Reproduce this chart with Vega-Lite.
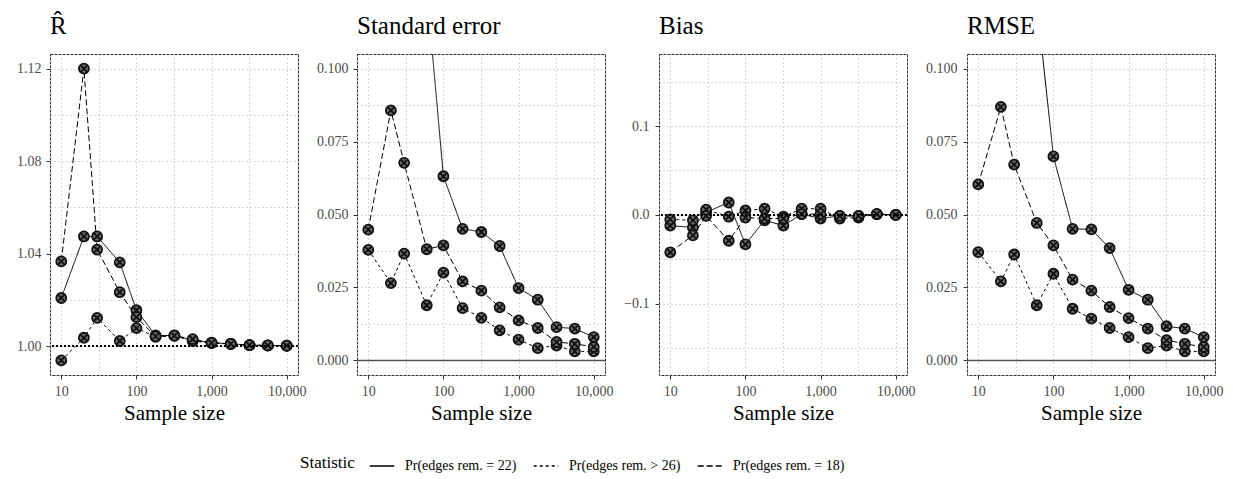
{
  "$schema": "https://vega.github.io/schema/vega-lite/v6.json",
  "padding": {"left": 16, "top": 13, "right": 5, "bottom": 5},
  "background": "white",
  "datasets": {
    "d": [
      {"p":"R","s":"Pr(edges rem. = 22)","n":10,"v":1.0208},{"p":"R","s":"Pr(edges rem. = 22)","n":20,"v":1.0474},{"p":"R","s":"Pr(edges rem. = 22)","n":30,"v":1.0474},{"p":"R","s":"Pr(edges rem. = 22)","n":60,"v":1.0362},{"p":"R","s":"Pr(edges rem. = 22)","n":100,"v":1.0155},{"p":"R","s":"Pr(edges rem. = 22)","n":180,"v":1.0046},{"p":"R","s":"Pr(edges rem. = 22)","n":320,"v":1.0046},{"p":"R","s":"Pr(edges rem. = 22)","n":560,"v":1.0025},{"p":"R","s":"Pr(edges rem. = 22)","n":1000,"v":1.0015},{"p":"R","s":"Pr(edges rem. = 22)","n":1800,"v":1.0010},{"p":"R","s":"Pr(edges rem. = 22)","n":3200,"v":1.0004},{"p":"R","s":"Pr(edges rem. = 22)","n":5600,"v":1.0003},{"p":"R","s":"Pr(edges rem. = 22)","n":10000,"v":1.0002},
      {"p":"R","s":"Pr(edges rem. > 26)","n":10,"v":0.9938},{"p":"R","s":"Pr(edges rem. > 26)","n":20,"v":1.0036},{"p":"R","s":"Pr(edges rem. > 26)","n":30,"v":1.0122},{"p":"R","s":"Pr(edges rem. > 26)","n":60,"v":1.0022},{"p":"R","s":"Pr(edges rem. > 26)","n":100,"v":1.0078},{"p":"R","s":"Pr(edges rem. > 26)","n":180,"v":1.0040},{"p":"R","s":"Pr(edges rem. > 26)","n":320,"v":1.0044},{"p":"R","s":"Pr(edges rem. > 26)","n":560,"v":1.0022},{"p":"R","s":"Pr(edges rem. > 26)","n":1000,"v":1.0013},{"p":"R","s":"Pr(edges rem. > 26)","n":1800,"v":1.0009},{"p":"R","s":"Pr(edges rem. > 26)","n":3200,"v":1.0004},{"p":"R","s":"Pr(edges rem. > 26)","n":5600,"v":1.0002},{"p":"R","s":"Pr(edges rem. > 26)","n":10000,"v":1.0001},
      {"p":"R","s":"Pr(edges rem. = 18)","n":10,"v":1.0366},{"p":"R","s":"Pr(edges rem. = 18)","n":20,"v":1.1200},{"p":"R","s":"Pr(edges rem. = 18)","n":30,"v":1.0417},{"p":"R","s":"Pr(edges rem. = 18)","n":60,"v":1.0233},{"p":"R","s":"Pr(edges rem. = 18)","n":100,"v":1.0125},{"p":"R","s":"Pr(edges rem. = 18)","n":180,"v":1.0042},{"p":"R","s":"Pr(edges rem. = 18)","n":320,"v":1.0045},{"p":"R","s":"Pr(edges rem. = 18)","n":560,"v":1.0030},{"p":"R","s":"Pr(edges rem. = 18)","n":1000,"v":1.0014},{"p":"R","s":"Pr(edges rem. = 18)","n":1800,"v":1.0010},{"p":"R","s":"Pr(edges rem. = 18)","n":3200,"v":1.0004},{"p":"R","s":"Pr(edges rem. = 18)","n":5600,"v":1.0003},{"p":"R","s":"Pr(edges rem. = 18)","n":10000,"v":1.0002},

      {"p":"SE","s":"Pr(edges rem. = 22)","n":60,"v":0.127},{"p":"SE","s":"Pr(edges rem. = 22)","n":100,"v":0.0631},{"p":"SE","s":"Pr(edges rem. = 22)","n":180,"v":0.0451},{"p":"SE","s":"Pr(edges rem. = 22)","n":320,"v":0.0440},{"p":"SE","s":"Pr(edges rem. = 22)","n":560,"v":0.0392},{"p":"SE","s":"Pr(edges rem. = 22)","n":1000,"v":0.0248},{"p":"SE","s":"Pr(edges rem. = 22)","n":1800,"v":0.0208},{"p":"SE","s":"Pr(edges rem. = 22)","n":3200,"v":0.0114},{"p":"SE","s":"Pr(edges rem. = 22)","n":5600,"v":0.0109},{"p":"SE","s":"Pr(edges rem. = 22)","n":10000,"v":0.0080},
      {"p":"SE","s":"Pr(edges rem. > 26)","n":10,"v":0.0379},{"p":"SE","s":"Pr(edges rem. > 26)","n":20,"v":0.0265},{"p":"SE","s":"Pr(edges rem. > 26)","n":30,"v":0.0366},{"p":"SE","s":"Pr(edges rem. > 26)","n":60,"v":0.0189},{"p":"SE","s":"Pr(edges rem. > 26)","n":100,"v":0.0301},{"p":"SE","s":"Pr(edges rem. > 26)","n":180,"v":0.0179},{"p":"SE","s":"Pr(edges rem. > 26)","n":320,"v":0.0146},{"p":"SE","s":"Pr(edges rem. > 26)","n":560,"v":0.0103},{"p":"SE","s":"Pr(edges rem. > 26)","n":1000,"v":0.0071},{"p":"SE","s":"Pr(edges rem. > 26)","n":1800,"v":0.0042},{"p":"SE","s":"Pr(edges rem. > 26)","n":3200,"v":0.0051},{"p":"SE","s":"Pr(edges rem. > 26)","n":5600,"v":0.0031},{"p":"SE","s":"Pr(edges rem. > 26)","n":10000,"v":0.0031},
      {"p":"SE","s":"Pr(edges rem. = 18)","n":10,"v":0.0448},{"p":"SE","s":"Pr(edges rem. = 18)","n":20,"v":0.0857},{"p":"SE","s":"Pr(edges rem. = 18)","n":30,"v":0.0677},{"p":"SE","s":"Pr(edges rem. = 18)","n":60,"v":0.0381},{"p":"SE","s":"Pr(edges rem. = 18)","n":100,"v":0.0394},{"p":"SE","s":"Pr(edges rem. = 18)","n":180,"v":0.0271},{"p":"SE","s":"Pr(edges rem. = 18)","n":320,"v":0.0239},{"p":"SE","s":"Pr(edges rem. = 18)","n":560,"v":0.0182},{"p":"SE","s":"Pr(edges rem. = 18)","n":1000,"v":0.0137},{"p":"SE","s":"Pr(edges rem. = 18)","n":1800,"v":0.0111},{"p":"SE","s":"Pr(edges rem. = 18)","n":3200,"v":0.0063},{"p":"SE","s":"Pr(edges rem. = 18)","n":5600,"v":0.0057},{"p":"SE","s":"Pr(edges rem. = 18)","n":10000,"v":0.0046},

      {"p":"B","s":"Pr(edges rem. = 22)","n":10,"v":-0.012},{"p":"B","s":"Pr(edges rem. = 22)","n":20,"v":-0.014},{"p":"B","s":"Pr(edges rem. = 22)","n":30,"v":0.003},{"p":"B","s":"Pr(edges rem. = 22)","n":60,"v":0.014},{"p":"B","s":"Pr(edges rem. = 22)","n":100,"v":-0.033},{"p":"B","s":"Pr(edges rem. = 22)","n":180,"v":-0.006},{"p":"B","s":"Pr(edges rem. = 22)","n":320,"v":-0.012},{"p":"B","s":"Pr(edges rem. = 22)","n":560,"v":0.001},{"p":"B","s":"Pr(edges rem. = 22)","n":1000,"v":-0.004},{"p":"B","s":"Pr(edges rem. = 22)","n":1800,"v":-0.001},{"p":"B","s":"Pr(edges rem. = 22)","n":3200,"v":-0.001},{"p":"B","s":"Pr(edges rem. = 22)","n":5600,"v":0.001},{"p":"B","s":"Pr(edges rem. = 22)","n":10000,"v":0.000},
      {"p":"B","s":"Pr(edges rem. > 26)","n":10,"v":-0.005},{"p":"B","s":"Pr(edges rem. > 26)","n":20,"v":-0.006},{"p":"B","s":"Pr(edges rem. > 26)","n":30,"v":0.006},{"p":"B","s":"Pr(edges rem. > 26)","n":60,"v":-0.002},{"p":"B","s":"Pr(edges rem. > 26)","n":100,"v":0.005},{"p":"B","s":"Pr(edges rem. > 26)","n":180,"v":0.007},{"p":"B","s":"Pr(edges rem. > 26)","n":320,"v":-0.002},{"p":"B","s":"Pr(edges rem. > 26)","n":560,"v":0.007},{"p":"B","s":"Pr(edges rem. > 26)","n":1000,"v":0.007},{"p":"B","s":"Pr(edges rem. > 26)","n":1800,"v":-0.004},{"p":"B","s":"Pr(edges rem. > 26)","n":3200,"v":-0.003},{"p":"B","s":"Pr(edges rem. > 26)","n":5600,"v":0.001},{"p":"B","s":"Pr(edges rem. > 26)","n":10000,"v":0.000},
      {"p":"B","s":"Pr(edges rem. = 18)","n":10,"v":-0.042},{"p":"B","s":"Pr(edges rem. = 18)","n":20,"v":-0.023},{"p":"B","s":"Pr(edges rem. = 18)","n":30,"v":-0.001},{"p":"B","s":"Pr(edges rem. = 18)","n":60,"v":-0.029},{"p":"B","s":"Pr(edges rem. = 18)","n":100,"v":-0.003},{"p":"B","s":"Pr(edges rem. = 18)","n":180,"v":-0.004},{"p":"B","s":"Pr(edges rem. = 18)","n":320,"v":-0.004},{"p":"B","s":"Pr(edges rem. = 18)","n":560,"v":0.001},{"p":"B","s":"Pr(edges rem. = 18)","n":1000,"v":0.001},{"p":"B","s":"Pr(edges rem. = 18)","n":1800,"v":-0.001},{"p":"B","s":"Pr(edges rem. = 18)","n":3200,"v":-0.001},{"p":"B","s":"Pr(edges rem. = 18)","n":5600,"v":0.001},{"p":"B","s":"Pr(edges rem. = 18)","n":10000,"v":0.000},

      {"p":"RM","s":"Pr(edges rem. = 22)","n":60,"v":0.123},{"p":"RM","s":"Pr(edges rem. = 22)","n":100,"v":0.0699},{"p":"RM","s":"Pr(edges rem. = 22)","n":180,"v":0.0451},{"p":"RM","s":"Pr(edges rem. = 22)","n":320,"v":0.0449},{"p":"RM","s":"Pr(edges rem. = 22)","n":560,"v":0.0385},{"p":"RM","s":"Pr(edges rem. = 22)","n":1000,"v":0.0242},{"p":"RM","s":"Pr(edges rem. = 22)","n":1800,"v":0.0208},{"p":"RM","s":"Pr(edges rem. = 22)","n":3200,"v":0.0117},{"p":"RM","s":"Pr(edges rem. = 22)","n":5600,"v":0.0109},{"p":"RM","s":"Pr(edges rem. = 22)","n":10000,"v":0.0080},
      {"p":"RM","s":"Pr(edges rem. > 26)","n":10,"v":0.0371},{"p":"RM","s":"Pr(edges rem. > 26)","n":20,"v":0.0271},{"p":"RM","s":"Pr(edges rem. > 26)","n":30,"v":0.0363},{"p":"RM","s":"Pr(edges rem. > 26)","n":60,"v":0.0189},{"p":"RM","s":"Pr(edges rem. > 26)","n":100,"v":0.0297},{"p":"RM","s":"Pr(edges rem. > 26)","n":180,"v":0.0177},{"p":"RM","s":"Pr(edges rem. > 26)","n":320,"v":0.0143},{"p":"RM","s":"Pr(edges rem. > 26)","n":560,"v":0.0111},{"p":"RM","s":"Pr(edges rem. > 26)","n":1000,"v":0.0080},{"p":"RM","s":"Pr(edges rem. > 26)","n":1800,"v":0.0042},{"p":"RM","s":"Pr(edges rem. > 26)","n":3200,"v":0.0051},{"p":"RM","s":"Pr(edges rem. > 26)","n":5600,"v":0.0031},{"p":"RM","s":"Pr(edges rem. > 26)","n":10000,"v":0.0031},
      {"p":"RM","s":"Pr(edges rem. = 18)","n":10,"v":0.0603},{"p":"RM","s":"Pr(edges rem. = 18)","n":20,"v":0.0869},{"p":"RM","s":"Pr(edges rem. = 18)","n":30,"v":0.0671},{"p":"RM","s":"Pr(edges rem. = 18)","n":60,"v":0.0471},{"p":"RM","s":"Pr(edges rem. = 18)","n":100,"v":0.0394},{"p":"RM","s":"Pr(edges rem. = 18)","n":180,"v":0.0277},{"p":"RM","s":"Pr(edges rem. = 18)","n":320,"v":0.0239},{"p":"RM","s":"Pr(edges rem. = 18)","n":560,"v":0.0183},{"p":"RM","s":"Pr(edges rem. = 18)","n":1000,"v":0.0145},{"p":"RM","s":"Pr(edges rem. = 18)","n":1800,"v":0.0109},{"p":"RM","s":"Pr(edges rem. = 18)","n":3200,"v":0.0069},{"p":"RM","s":"Pr(edges rem. = 18)","n":5600,"v":0.0057},{"p":"RM","s":"Pr(edges rem. = 18)","n":10000,"v":0.0046}
    ]
  },
  "spacing": 9,
  "resolve": {"scale": {"x": "independent", "y": "independent"}},
  "hconcat": [
    {
      "width": 248, "height": 321,
      "title": {"text": "R̂"},
      "layer": [
        {
          "data": {"name": "d"},
          "transform": [{"filter": "datum.p === 'R'"}],
          "mark": {"type": "line", "clip": true, "color": "black", "strokeWidth": 1},
          "encoding": {
            "x": {"field": "n", "type": "quantitative", "scale": {"type": "log", "domain": [7.08, 14125], "nice": false},
                  "axis": {"title": "Sample size", "values": [10, 31.623, 100, 316.23, 1000, 3162.3, 10000],
                           "labelExpr": "abs(log(datum.value)/LN10 - round(log(datum.value)/LN10)) < 0.01 ? format(datum.value, ',') : ''",
                           "tickOpacity": {"condition": {"test": "abs(log(datum.value)/LN10 - round(log(datum.value)/LN10)) < 0.01", "value": 1}, "value": 0}}},
            "y": {"field": "v", "type": "quantitative", "scale": {"domain": [0.9875, 1.1263], "nice": false, "zero": false},
                  "axis": {"title": null, "values": [1.0, 1.02, 1.04, 1.06, 1.08, 1.10, 1.12],
                           "labelExpr": "abs((datum.value-1)*25 - round((datum.value-1)*25)) < 0.01 ? format(datum.value, '.2f') : ''",
                           "tickOpacity": {"condition": {"test": "abs((datum.value-1)*25 - round((datum.value-1)*25)) < 0.01", "value": 1}, "value": 0}}},
            "strokeDash": {"field": "s", "type": "nominal", "title": "Statistic",
                           "scale": {"domain": ["Pr(edges rem. = 22)", "Pr(edges rem. > 26)", "Pr(edges rem. = 18)"], "range": [[1, 0], [3, 3], [6, 3]]},
                           "legend": {"orient": "none", "legendX": 250, "legendY": 399, "direction": "horizontal"}}
          }
        },
        {
          "data": {"name": "d"},
          "transform": [{"filter": "datum.p === 'R'"}],
          "mark": {"type": "point", "clip": true, "shape": "M1,0A1,1,0,1,1,-1,0A1,1,0,1,1,1,0ZM-0.7,-0.7L0.7,0.7M-0.7,0.7L0.7,-0.7", "size": 100, "filled": true, "fill": "#6a6a6a", "stroke": "#111", "strokeWidth": 1.8, "opacity": 1},
          "encoding": {
            "x": {"field": "n", "type": "quantitative"},
            "y": {"field": "v", "type": "quantitative"}
          }
        },
        {
          "data": {"values": [{}]},
          "mark": {"type": "rule", "color": "black", "strokeWidth": 2, "strokeDash": [2, 2]},
          "encoding": {"y": {"datum": 1, "type": "quantitative"}}
        }
      ]
    },
    {
      "width": 248, "height": 321,
      "title": {"text": "Standard error"},
      "layer": [
        {
          "data": {"values": [{}]},
          "mark": {"type": "rule", "color": "#555", "strokeWidth": 1.5},
          "encoding": {"y": {"datum": 0, "type": "quantitative"}}
        },
        {
          "data": {"name": "d"},
          "transform": [{"filter": "datum.p === 'SE'"}],
          "mark": {"type": "line", "clip": true, "color": "black", "strokeWidth": 1},
          "encoding": {
            "x": {"field": "n", "type": "quantitative", "scale": {"type": "log", "domain": [7.08, 14125], "nice": false},
                  "axis": {"title": "Sample size", "values": [10, 31.623, 100, 316.23, 1000, 3162.3, 10000],
                           "labelExpr": "abs(log(datum.value)/LN10 - round(log(datum.value)/LN10)) < 0.01 ? format(datum.value, ',') : ''",
                           "tickOpacity": {"condition": {"test": "abs(log(datum.value)/LN10 - round(log(datum.value)/LN10)) < 0.01", "value": 1}, "value": 0}}},
            "y": {"field": "v", "type": "quantitative", "scale": {"domain": [-0.005, 0.105], "nice": false, "zero": false},
                  "axis": {"title": null, "values": [0, 0.0125, 0.025, 0.0375, 0.05, 0.0625, 0.075, 0.0875, 0.1],
                           "labelExpr": "abs(datum.value*40 - round(datum.value*40)) < 0.01 ? format(datum.value, '.3f') : ''",
                           "tickOpacity": {"condition": {"test": "abs(datum.value*40 - round(datum.value*40)) < 0.01", "value": 1}, "value": 0}}},
            "strokeDash": {"field": "s", "type": "nominal", "title": "Statistic",
                           "scale": {"domain": ["Pr(edges rem. = 22)", "Pr(edges rem. > 26)", "Pr(edges rem. = 18)"], "range": [[1, 0], [3, 3], [6, 3]]},
                           "legend": {"orient": "none", "legendX": 250, "legendY": 399, "direction": "horizontal"}}
          }
        },
        {
          "data": {"name": "d"},
          "transform": [{"filter": "datum.p === 'SE'"}],
          "mark": {"type": "point", "clip": true, "shape": "M1,0A1,1,0,1,1,-1,0A1,1,0,1,1,1,0ZM-0.7,-0.7L0.7,0.7M-0.7,0.7L0.7,-0.7", "size": 100, "filled": true, "fill": "#6a6a6a", "stroke": "#111", "strokeWidth": 1.8, "opacity": 1},
          "encoding": {
            "x": {"field": "n", "type": "quantitative"},
            "y": {"field": "v", "type": "quantitative"}
          }
        }
      ]
    },
    {
      "width": 248, "height": 321,
      "title": {"text": "Bias"},
      "layer": [
        {
          "data": {"name": "d"},
          "transform": [{"filter": "datum.p === 'B'"}],
          "mark": {"type": "line", "clip": true, "color": "black", "strokeWidth": 1},
          "encoding": {
            "x": {"field": "n", "type": "quantitative", "scale": {"type": "log", "domain": [7.08, 14125], "nice": false},
                  "axis": {"title": "Sample size", "values": [10, 31.623, 100, 316.23, 1000, 3162.3, 10000],
                           "labelExpr": "abs(log(datum.value)/LN10 - round(log(datum.value)/LN10)) < 0.01 ? format(datum.value, ',') : ''",
                           "tickOpacity": {"condition": {"test": "abs(log(datum.value)/LN10 - round(log(datum.value)/LN10)) < 0.01", "value": 1}, "value": 0}}},
            "y": {"field": "v", "type": "quantitative", "scale": {"domain": [-0.18, 0.181], "nice": false, "zero": false},
                  "axis": {"title": null, "labelPadding": 6, "values": [-0.15, -0.1, -0.05, 0, 0.05, 0.1, 0.15],
                           "labelExpr": "abs(datum.value*10 - round(datum.value*10)) < 0.01 ? format(datum.value, '.1f') : ''",
                           "tickOpacity": {"condition": {"test": "abs(datum.value*10 - round(datum.value*10)) < 0.01", "value": 1}, "value": 0}}},
            "strokeDash": {"field": "s", "type": "nominal", "title": "Statistic",
                           "scale": {"domain": ["Pr(edges rem. = 22)", "Pr(edges rem. > 26)", "Pr(edges rem. = 18)"], "range": [[1, 0], [3, 3], [6, 3]]},
                           "legend": {"orient": "none", "legendX": 250, "legendY": 399, "direction": "horizontal"}}
          }
        },
        {
          "data": {"name": "d"},
          "transform": [{"filter": "datum.p === 'B'"}],
          "mark": {"type": "point", "clip": true, "shape": "M1,0A1,1,0,1,1,-1,0A1,1,0,1,1,1,0ZM-0.7,-0.7L0.7,0.7M-0.7,0.7L0.7,-0.7", "size": 100, "filled": true, "fill": "#6a6a6a", "stroke": "#111", "strokeWidth": 1.8, "opacity": 1},
          "encoding": {
            "x": {"field": "n", "type": "quantitative"},
            "y": {"field": "v", "type": "quantitative"}
          }
        },
        {
          "data": {"values": [{}]},
          "mark": {"type": "rule", "color": "black", "strokeWidth": 2, "strokeDash": [2, 2]},
          "encoding": {"y": {"datum": 0, "type": "quantitative"}}
        }
      ]
    },
    {
      "width": 248, "height": 321,
      "title": {"text": "RMSE"},
      "layer": [
        {
          "data": {"values": [{}]},
          "mark": {"type": "rule", "color": "#555", "strokeWidth": 1.5},
          "encoding": {"y": {"datum": 0, "type": "quantitative"}}
        },
        {
          "data": {"name": "d"},
          "transform": [{"filter": "datum.p === 'RM'"}],
          "mark": {"type": "line", "clip": true, "color": "black", "strokeWidth": 1},
          "encoding": {
            "x": {"field": "n", "type": "quantitative", "scale": {"type": "log", "domain": [7.08, 14125], "nice": false},
                  "axis": {"title": "Sample size", "values": [10, 31.623, 100, 316.23, 1000, 3162.3, 10000],
                           "labelExpr": "abs(log(datum.value)/LN10 - round(log(datum.value)/LN10)) < 0.01 ? format(datum.value, ',') : ''",
                           "tickOpacity": {"condition": {"test": "abs(log(datum.value)/LN10 - round(log(datum.value)/LN10)) < 0.01", "value": 1}, "value": 0}}},
            "y": {"field": "v", "type": "quantitative", "scale": {"domain": [-0.005, 0.105], "nice": false, "zero": false},
                  "axis": {"title": null, "labelPadding": 6, "values": [0, 0.0125, 0.025, 0.0375, 0.05, 0.0625, 0.075, 0.0875, 0.1],
                           "labelExpr": "abs(datum.value*40 - round(datum.value*40)) < 0.01 ? format(datum.value, '.3f') : ''",
                           "tickOpacity": {"condition": {"test": "abs(datum.value*40 - round(datum.value*40)) < 0.01", "value": 1}, "value": 0}}},
            "strokeDash": {"field": "s", "type": "nominal", "title": "Statistic",
                           "scale": {"domain": ["Pr(edges rem. = 22)", "Pr(edges rem. > 26)", "Pr(edges rem. = 18)"], "range": [[1, 0], [3, 3], [6, 3]]},
                           "legend": {"orient": "none", "legendX": 250, "legendY": 399, "direction": "horizontal"}}
          }
        },
        {
          "data": {"name": "d"},
          "transform": [{"filter": "datum.p === 'RM'"}],
          "mark": {"type": "point", "clip": true, "shape": "M1,0A1,1,0,1,1,-1,0A1,1,0,1,1,1,0ZM-0.7,-0.7L0.7,0.7M-0.7,0.7L0.7,-0.7", "size": 100, "filled": true, "fill": "#6a6a6a", "stroke": "#111", "strokeWidth": 1.8, "opacity": 1},
          "encoding": {
            "x": {"field": "n", "type": "quantitative"},
            "y": {"field": "v", "type": "quantitative"}
          }
        }
      ]
    }
  ],
  "config": {
    "font": "Liberation Serif",
    "view": {"stroke": "#333", "strokeDash": [3, 1], "strokeWidth": 1},
    "axis": {"labelFont": "Liberation Serif", "labelFontSize": 14, "labelColor": "#4d4d4d", "tickColor": "#333", "tickSize": 4, "labelPadding": 5, "domain": false, "grid": true, "gridColor": "#999", "gridDash": [1, 3], "gridWidth": 0.8, "titleFont": "Liberation Serif", "titleFontSize": 21, "titleFontWeight": "normal", "titleColor": "black", "titlePadding": 4, "labelFlush": false, "labelOverlap": false},
    "title": {"font": "Liberation Serif", "fontSize": 25, "fontWeight": "normal", "anchor": "start", "frame": "group", "baseline": "alphabetic", "offset": 15, "color": "black"},
    "legend": {"titleFont": "Liberation Serif", "titleFontSize": 17, "titleFontWeight": "normal", "titleColor": "black", "titleOrient": "left", "titlePadding": 14, "labelFont": "Liberation Serif", "labelFontSize": 14, "labelColor": "black", "symbolType": "stroke", "symbolSize": 600, "symbolStrokeWidth": 1.3, "symbolStrokeColor": "black", "columnPadding": 14, "labelOffset": 10}
  }
}
